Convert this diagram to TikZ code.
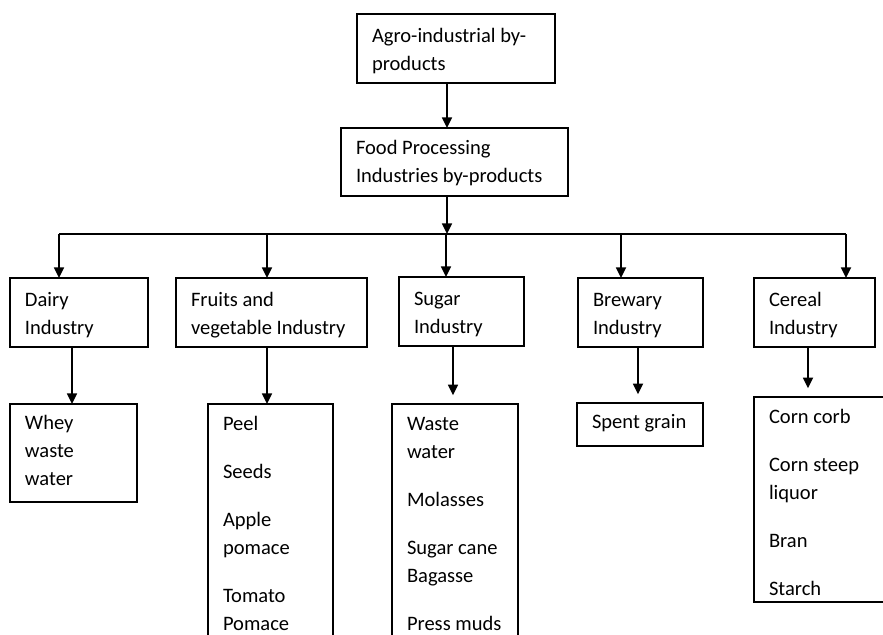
\documentclass[tikz,border=0pt]{standalone}
\usepackage{fontspec}
\setmainfont{Carlito}
\usetikzlibrary{arrows.meta}
\newlength\px
\setlength\px{0.75pt}
\newcommand\btxt[4]{\parbox[c][#2\px][t]{#1\px}{\raggedright\leftskip=15\px\rule{0pt}{#3\px}#4}}
\begin{document}
\begin{tikzpicture}[x=0.75pt,y=-0.75pt,
  every node/.style={font=\fontsize{15.4}{21}\selectfont},
  box/.style={draw, line width=1.2pt, anchor=north west, inner sep=0pt, outer sep=0pt},
  arr/.style={line width=1.3pt, -{Triangle[width=7.5pt,length=8pt]}},
  gaparr/.style={arr, shorten >=6.5pt},
  ln/.style={line width=1.3pt}]
\useasboundingbox (0,0) rectangle (883,635);
\fill[white] (0,0) rectangle (883,635);
\clip (0,0) rectangle (883,635);
% level 1 and 2
\node[box] (agro) at (357,14) {\btxt{198}{69}{29}{Agro-industrial by-\\products}};
\node[box] (food) at (341,128) {\btxt{227}{68}{27}{Food Processing\\Industries by-products}};
% level 3
\node[box] (dairy) at (10,278) {\btxt{138}{69}{28}{Dairy\\Industry}};
\node[box] (fruit) at (176,278) {\btxt{191}{69}{28}{Fruits and\\vegetable Industry}};
\node[box] (sugar) at (399,277) {\btxt{125}{69}{28}{Sugar\\Industry}};
\node[box] (brew) at (578,278) {\btxt{125}{69}{28}{Brewary\\Industry}};
\node[box] (cereal) at (754,278) {\btxt{121}{69}{28}{Cereal\\Industry}};
% level 4
\node[box] (whey) at (10,404) {\btxt{127}{98}{25}{Whey\\waste\\water}};
\node[box] (fl) at (208,404) {\btxt{125}{260}{26}{Peel\\[15pt]Seeds\\[15pt]Apple\\pomace\\[15pt]Tomato\\Pomace}};
\node[box] (sl) at (392,404) {\btxt{126}{260}{26}{Waste\\water\\[15pt]Molasses\\[15pt]Sugar cane\\Bagasse\\[15pt]Press muds}};
\node[box] (spent) at (577,403) {\btxt{126}{43}{25}{Spent grain}};
\node[box] (cl) at (754,397) {\btxt{140}{205}{26}{Corn corb\\[15pt]Corn steep\\liquor\\[15pt]Bran\\[15pt]Starch}};
% coordinates
\coordinate (bus) at (447,234);
\coordinate (bD) at (59,234);
\coordinate (bF) at (267,234);
\coordinate (bS) at (446,234);
\coordinate (bB) at (621,234);
\coordinate (bC) at (846,234);
\coordinate (xD) at (72,0);
\coordinate (xF) at (267,0);
\coordinate (xS) at (453,0);
\coordinate (xB) at (638,0);
\coordinate (xC) at (808,0);
% connectors
\draw[arr] (agro.south -| bus) -- (food.north -| bus);
\draw[arr] (food.south -| bus) -- (bus);
\draw[ln] (bD) -- (bC);
\draw[arr] (bD) -- (bD |- dairy.north);
\draw[arr] (bF) -- (bF |- fruit.north);
\draw[arr] (bS) -- (bS |- sugar.north);
\draw[arr] (bB) -- (bB |- brew.north);
\draw[arr] (bC) -- (bC |- cereal.north);
\draw[arr] (xD |- dairy.south) -- (xD |- whey.north);
\draw[arr] (xF |- fruit.south) -- (xF |- fl.north);
\draw[gaparr] (xS |- sugar.south) -- (xS |- sl.north);
\draw[gaparr] (xB |- brew.south) -- (xB |- spent.north);
\draw[gaparr] (xC |- cereal.south) -- (xC |- cl.north);
\end{tikzpicture}
\end{document}
